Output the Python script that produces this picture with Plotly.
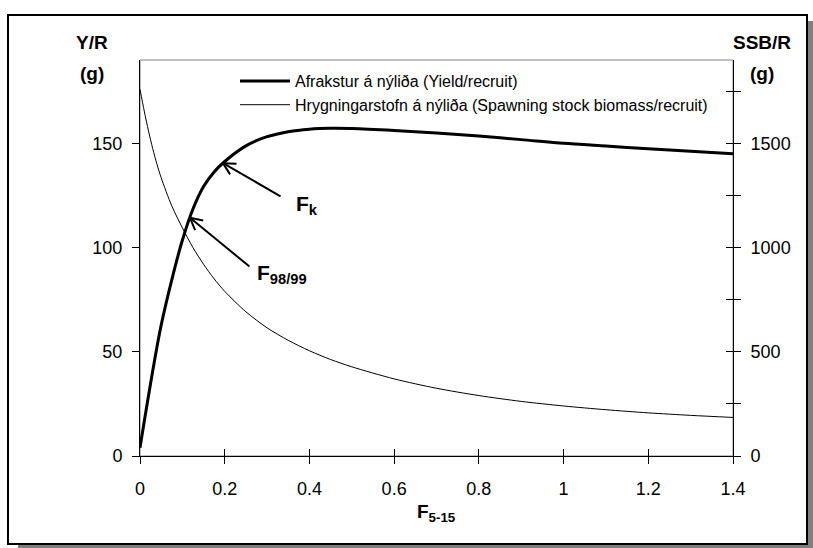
import numpy as np
import plotly.graph_objects as go

# ---- data ----
F = [0, 0.01, 0.02, 0.03, 0.04, 0.05, 0.075, 0.1, 0.125, 0.15, 0.175, 0.2, 0.25, 0.3,
     0.35, 0.4, 0.45, 0.5, 0.6, 0.7, 0.8, 0.9, 1.0, 1.1, 1.2, 1.3, 1.4]
yield_per_recruit = [4, 16.5, 28.8, 40.8, 52.3, 62.8, 84.5, 103.5, 118.5, 129.3, 136.3, 141.3,
                     148.8, 153.2, 155.6, 156.8, 157.2, 157.1, 156.2, 155, 153.5, 151.8,
                     150, 148.7, 147.4, 146.2, 145]
ssb_per_recruit = [1760, 1655, 1560, 1475, 1400, 1335, 1200, 1095, 1000, 920, 850, 790,
                   692, 615, 555, 505, 463, 428, 370, 325, 290, 262, 240, 222, 207, 195, 185]

legend_names = ["Afrakstur á nýliða (Yield/recruit)",
                "Hrygningarstofn á nýliða (Spawning stock biomass/recruit)"]

x_tickvals = [0, 0.2, 0.4, 0.6, 0.8, 1.0, 1.2, 1.4]
x_ticktext = ["0", "0.2", "0.4", "0.6", "0.8", "1", "1.2", "1.4"]
left_tickvals = [0, 50, 100, 150]
right_tickvals = [0, 250, 500, 750, 1000, 1250, 1500, 1750]
right_ticktext = ["0", "", "500", "", "1000", "", "1500", ""]
left_range = [0, 190]
right_range = [0, 1900]

# reference points marked with arrows (F values on the Y/R curve)
marker_F = [0.196, 0.118]
marker_labels = ["<b>F<sub>k</sub></b>", "<b>F<sub>98/99</sub></b>"]

# ---- layout geometry ----
W, H = 813, 548
ML, MR, MT, MB = 140, 80, 60, 92
PW, PH = W - ML - MR, H - MT - MB
FONT = "Liberation Sans, Arial, sans-serif"


def px(xp):
    return (xp - ML) / PW


def py(yp):
    return (H - MB - yp) / PH


fig = go.Figure()
fig.add_trace(go.Scatter(x=F, y=yield_per_recruit, name=legend_names[0], mode="lines",
                         line=dict(color="black", width=3, shape="spline", smoothing=0.8),
                         xaxis="x", yaxis="y"))
fig.add_trace(go.Scatter(x=F, y=ssb_per_recruit, name=legend_names[1], mode="lines",
                         line=dict(color="black", width=1, shape="spline", smoothing=0.8),
                         xaxis="x", yaxis="y2"))
# invisible helper trace so the inner-tick axes are drawn
fig.add_trace(go.Scatter(x=F, y=ssb_per_recruit, mode="lines", showlegend=False,
                         hoverinfo="skip", line=dict(color="rgba(0,0,0,0)", width=0),
                         xaxis="x2", yaxis="y3"))

tickfont = dict(family=FONT, size=18, color="black")

fig.update_layout(
    width=W, height=H,
    margin=dict(l=ML, r=MR, t=MT, b=MB),
    paper_bgcolor="white", plot_bgcolor="rgba(0,0,0,0)",
    font=dict(family=FONT, color="black"),
    showlegend=True,
    legend=dict(x=px(235), y=py(64), xanchor="left", yanchor="top",
                bgcolor="rgba(0,0,0,0)", font=dict(family=FONT, size=16, color="black"),
                tracegroupgap=0, itemwidth=50),
    xaxis=dict(range=[0, 1.4], tickvals=x_tickvals, ticktext=x_ticktext,
               ticks="outside", ticklen=7, tickwidth=1, tickcolor="black",
               showline=True, linecolor="black", linewidth=1, showgrid=False,
               zeroline=False, tickfont=tickfont, ticklabelstandoff=9),
    xaxis2=dict(range=[0, 1.4], overlaying="x", anchor="y", side="bottom",
                tickvals=x_tickvals, ticks="inside", ticklen=7, tickwidth=1,
                tickcolor="black", showticklabels=False, showline=False,
                showgrid=False, zeroline=False),
    yaxis=dict(range=left_range, tickvals=left_tickvals, ticks="outside", ticklen=7,
               tickwidth=1, tickcolor="black", showline=True, linecolor="black",
               linewidth=1, showgrid=False, zeroline=False, tickfont=tickfont,
               ticklabelstandoff=6),
    yaxis2=dict(range=right_range, overlaying="y", side="right", anchor="x",
                tickvals=right_tickvals, ticktext=right_ticktext, ticks="outside",
                ticklen=7, tickwidth=1, tickcolor="black", showline=True,
                linecolor="black", linewidth=1, showgrid=False, zeroline=False,
                tickfont=tickfont, ticklabelstandoff=6),
    yaxis3=dict(range=right_range, overlaying="y", side="right", anchor="x2",
                tickvals=right_tickvals, ticks="inside", ticklen=7, tickwidth=1,
                tickcolor="black", showticklabels=False, showline=False,
                showgrid=False, zeroline=False),
)

# outer frame with shadow + plot-area border
fig.add_shape(type="rect", xref="paper", yref="paper", layer="below",
              x0=px(18), x1=px(813), y0=py(548), y1=py(21),
              fillcolor="#808080", line=dict(width=0))
fig.add_shape(type="rect", xref="paper", yref="paper", layer="below",
              x0=px(8), x1=px(807), y0=py(544), y1=py(15),
              fillcolor="white", line=dict(color="black", width=2))
fig.add_shape(type="rect", xref="paper", yref="paper", layer="below",
              x0=0, x1=1, y0=0, y1=1, line=dict(color="#808080", width=1))

title_font = dict(family=FONT, size=19, color="black")
for text, xp, yp in [("<b>Y/R</b>", 92, 42), ("<b>(g)</b>", 92, 73),
                     ("<b>SSB/R</b>", 762, 42), ("<b>(g)</b>", 762, 73)]:
    fig.add_annotation(text=text, xref="paper", yref="paper", x=px(xp), y=py(yp),
                       showarrow=False, font=title_font, xanchor="center", yanchor="middle")

fig.add_annotation(text="<b>F<sub>5-15</sub></b>", xref="paper", yref="paper",
                   x=0.5, y=py(513), showarrow=False, xanchor="center", yanchor="middle",
                   font=dict(family=FONT, size=19, color="black"))

# arrows with open heads
shaft_offsets = [(59, 34), (61, 50)]
text_offsets = [(84, 42), (92, 56)]
head_len, head_ang = 15, np.deg2rad(28)
for fv, lab, (sx, sy), (tx, ty) in zip(marker_F, marker_labels, shaft_offsets, text_offsets):
    yv = float(np.interp(fv, F, yield_per_recruit))
    fig.add_annotation(x=fv, y=yv, xref="x", yref="y", ax=sx, ay=sy, text="",
                       showarrow=True, arrowhead=0, arrowwidth=2, arrowcolor="black",
                       standoff=0, startstandoff=0)
    ang = np.arctan2(sy, sx)
    for s in (-1, 1):
        a = ang + s * head_ang
        fig.add_annotation(x=fv, y=yv, xref="x", yref="y",
                           ax=head_len * np.cos(a), ay=head_len * np.sin(a), text="",
                           showarrow=True, arrowhead=0, arrowwidth=2, arrowcolor="black",
                           standoff=0, startstandoff=0)
    fig.add_annotation(x=fv, y=yv, xref="x", yref="y", ax=tx, ay=ty, text=lab,
                       showarrow=True, arrowhead=0, arrowwidth=0.1,
                       arrowcolor="rgba(0,0,0,0)",
                       font=dict(family=FONT, size=21, color="black"))

fig.write_html("out.html",
               config={"displayModeBar": False},
               post_script="document.body.style.margin='0px';"
                           "document.body.style.overflow='hidden';")
